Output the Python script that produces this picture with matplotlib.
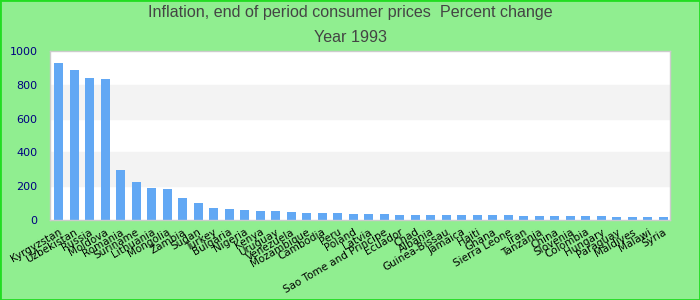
import matplotlib
matplotlib.use("Agg")
import matplotlib.pyplot as plt
from matplotlib.patches import Rectangle

countries = ["Kyrgyzstan", "Uzbekistan", "Russia", "Moldova", "Romania", "Suriname",
             "Lithuania", "Mongolia", "Zambia", "Sudan", "Turkey", "Bulgaria", "Nigeria",
             "Kenya", "Uruguay", "Venezuela", "Mozambique", "Cambodia", "Peru", "Poland",
             "Latvia", "Sao Tome and Principe", "Ecuador", "Chad", "Albania", "Guinea-Bissau",
             "Jamaica", "Haiti", "Ghana", "Sierra Leone", "Iran", "Tanzania", "China",
             "Slovenia", "Colombia", "Hungary", "Paraguay", "Maldives", "Malawi", "Syria"]
inflation = [929, 888, 840, 834, 296, 225, 189, 183, 130, 100, 71, 65, 59,
             53, 53, 47, 41, 41, 41, 35, 35, 35, 30, 30, 30, 30,
             30, 30, 30, 30, 24, 24, 24, 24, 24, 24, 18, 18, 18, 18]
yticks = [0, 200, 400, 600, 800, 1000]

fig = plt.figure(figsize=(7, 3), dpi=100, facecolor="#90ee90")
fig.patches.append(Rectangle((0, 0), 1, 1, transform=fig.transFigure, fill=False,
                             edgecolor="#22dd22", linewidth=2))

ax = fig.add_axes([50 / 700, 80 / 300, 620 / 700, 169 / 300])
ax.set_facecolor("white")

# alternating bands
for lo, hi in [(200, 400), (600, 800)]:
    ax.axhspan(lo, hi, color="#f3f3f3", zorder=0)

x = range(len(countries))
ax.bar(x, inflation, width=0.58, color="#62a8f4", zorder=2)

ax.set_xlim(-0.55, len(countries) - 0.58)
ax.set_ylim(0, 1000)
ax.set_yticks(yticks)
ax.set_yticklabels([str(v) for v in yticks], color="#000080", fontsize=8)
ax.set_xticks(list(x))
ax.set_xticklabels(countries, rotation=30, ha="right", rotation_mode="anchor",
                   fontsize=7.5, color="black")
ax.tick_params(axis="both", length=0)
ax.tick_params(axis="y", pad=9)
ax.tick_params(axis="x", pad=5)
for s in ax.spines.values():
    s.set_color("#cccccc")
    s.set_linewidth(1)

title_font = ["Liberation Sans", "DejaVu Sans"]
fig.text(0.5, 1 - 13 / 300, "Inflation, end of period consumer prices  Percent change",
         ha="center", va="center", fontsize=11.6, color="#444444", family=title_font)
fig.text(0.5, 1 - 37 / 300, "Year 1993", ha="center", va="center",
         fontsize=11.6, color="#444444", family=title_font)

fig.savefig("out.png", dpi=100, facecolor=fig.get_facecolor())
